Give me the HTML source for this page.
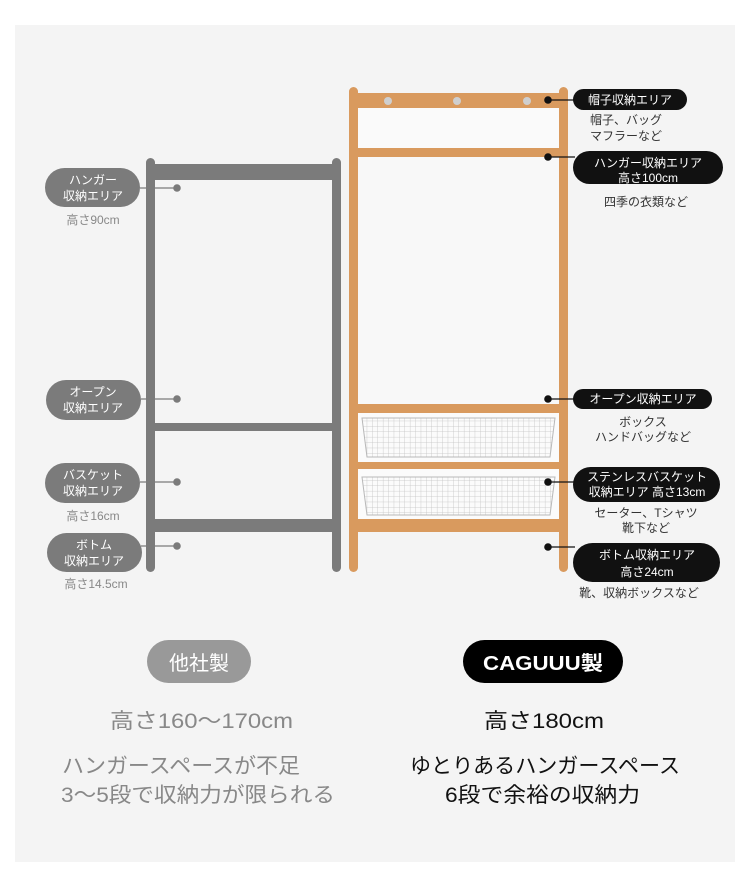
<!DOCTYPE html>
<html><head><meta charset="utf-8"><style>
html,body{margin:0;padding:0;background:#fff;}
svg{display:block;}
text{font-family:"Liberation Sans","Noto Sans CJK JP",sans-serif;}
</style></head><body>
<svg width="750" height="872" viewBox="0 0 750 872" xmlns="http://www.w3.org/2000/svg">
<defs>
<pattern id="grid" width="5.4" height="5.4" patternUnits="userSpaceOnUse">
<path d="M5.4 0V5.4M0 5.4H5.4" stroke="#c4c4c4" stroke-width="0.8" fill="none"/>
</pattern>
</defs>
<rect x="15" y="25" width="720" height="837" fill="#f4f4f4"/>

<!-- gray frame -->
<g fill="#7b7b7b">
<rect x="146" y="158" width="9" height="414" rx="4.5"/>
<rect x="332" y="158" width="9" height="414" rx="4.5"/>
<rect x="150" y="164" width="186" height="16"/>
<rect x="150" y="423" width="186" height="8"/>
<rect x="150" y="519" width="186" height="13"/>
</g>
<g stroke="#7b7b7b" stroke-width="1.2">
<line x1="140" y1="188" x2="177" y2="188"/>
<line x1="141" y1="399" x2="177" y2="399"/>
<line x1="140" y1="482" x2="177" y2="482"/>
<line x1="141" y1="546" x2="177" y2="546"/>
</g>
<g fill="#7b7b7b">
<circle cx="177" cy="188" r="3.8"/><circle cx="177" cy="399" r="3.8"/>
<circle cx="177" cy="482" r="3.8"/><circle cx="177" cy="546" r="3.8"/>
<rect x="45" y="168" width="95" height="39" rx="19.5"/>
<rect x="46" y="380" width="95" height="40" rx="20"/>
<rect x="45" y="463" width="95" height="40" rx="20"/>
<rect x="47" y="533" width="95" height="39" rx="19.5"/>
</g>
<g fill="#fff" font-size="12" text-anchor="middle">
<text x="93" y="184">ハンガー</text><text x="93" y="200">収納エリア</text>
<text x="93" y="396">オープン</text><text x="93" y="412">収納エリア</text>
<text x="93" y="479">バスケット</text><text x="93" y="495">収納エリア</text>
<text x="94" y="549">ボトム</text><text x="94" y="565">収納エリア</text>
</g>
<g fill="#888" font-size="12" text-anchor="middle">
<text x="93" y="224">高さ90cm</text>
<text x="93" y="520">高さ16cm</text>
<text x="96" y="588">高さ14.5cm</text>
</g>

<!-- orange frame -->
<rect x="358" y="108" width="201" height="40" fill="#fafafa"/>
<rect x="358" y="157" width="201" height="247" fill="#f8f8f8"/>
<rect x="358" y="413" width="201" height="49" fill="#fbfbfb"/>
<rect x="358" y="469" width="201" height="50" fill="#fbfbfb"/>
<g fill="#d99a5e">
<rect x="349" y="87" width="9" height="485" rx="4.5"/>
<rect x="559" y="87" width="9" height="485" rx="4.5"/>
<rect x="353" y="93" width="210" height="15"/>
<rect x="353" y="148" width="210" height="9"/>
<rect x="353" y="404" width="210" height="9"/>
<rect x="353" y="462" width="210" height="7"/>
<rect x="353" y="519" width="210" height="13"/>
</g>
<g fill="#cfcfcf">
<circle cx="388" cy="101" r="4"/><circle cx="457" cy="101" r="4"/><circle cx="527" cy="101" r="4"/>
</g>
<polygon points="362,418 555,418 550,457 367,457" fill="url(#grid)" stroke="#b8b8b8" stroke-width="1"/>
<polygon points="362,477 555,477 550,515 367,515" fill="url(#grid)" stroke="#b8b8b8" stroke-width="1"/>

<g stroke="#111" stroke-width="1.2">
<line x1="548" y1="100" x2="574" y2="100"/>
<line x1="548" y1="157" x2="575" y2="157"/>
<line x1="548" y1="399" x2="574" y2="399"/>
<line x1="548" y1="482" x2="575" y2="482"/>
<line x1="548" y1="547" x2="575" y2="547"/>
</g>
<g fill="#111">
<circle cx="548" cy="100" r="3.8"/><circle cx="548" cy="157" r="3.8"/>
<circle cx="548" cy="399" r="3.8"/><circle cx="548" cy="482" r="3.8"/>
<circle cx="548" cy="547" r="3.8"/>
<rect x="573" y="89" width="114" height="21" rx="10.5"/>
<rect x="573" y="151" width="150" height="33" rx="16.5"/>
<rect x="573" y="389" width="139" height="20" rx="10"/>
<rect x="573" y="467" width="147" height="35" rx="17.5"/>
<rect x="573" y="543" width="147" height="39" rx="19.5"/>
</g>
<g fill="#fff" font-size="12" text-anchor="middle">
<text x="630" y="104">帽子収納エリア</text>
<text x="648" y="167">ハンガー収納エリア</text><text x="648" y="182">高さ100cm</text>
<text x="643" y="403">オープン収納エリア</text>
<text x="647" y="481">ステンレスバスケット</text><text x="647" y="496">収納エリア 高さ13cm</text>
<text x="647" y="559">ボトム収納エリア</text><text x="647" y="576">高さ24cm</text>
</g>
<g fill="#333" font-size="12" text-anchor="middle">
<text x="626" y="124">帽子、バッグ</text><text x="626" y="140">マフラーなど</text>
<text x="646" y="206">四季の衣類など</text>
<text x="643" y="426">ボックス</text><text x="643" y="441">ハンドバッグなど</text>
<text x="646" y="517">セーター、Tシャツ</text><text x="646" y="532">靴下など</text>
<text x="639" y="597">靴、収納ボックスなど</text>
</g>

<!-- bottom -->
<rect x="147" y="640" width="104" height="43" rx="21.5" fill="#999"/>
<text x="199" y="670" fill="#fff" font-size="20" text-anchor="middle">他社製</text>
<rect x="463" y="640" width="160" height="43" rx="21.5" fill="#000"/>
<text x="483" y="670" fill="#fff" font-size="20" font-weight="bold" textLength="120" lengthAdjust="spacingAndGlyphs">CAGUUU製</text>

<g font-size="21">
<text x="110" y="728" fill="#888" textLength="183" lengthAdjust="spacingAndGlyphs">高さ160〜170cm</text>
<text x="484" y="728" fill="#111" textLength="120" lengthAdjust="spacingAndGlyphs">高さ180cm</text>
<text x="62" y="773" fill="#888" textLength="238" lengthAdjust="spacingAndGlyphs">ハンガースペースが不足</text>
<text x="61" y="802" fill="#888" textLength="274" lengthAdjust="spacingAndGlyphs">3〜5段で収納力が限られる</text>
<text x="410" y="773" fill="#111" textLength="270" lengthAdjust="spacingAndGlyphs">ゆとりあるハンガースペース</text>
<text x="445" y="802" fill="#111" textLength="195" lengthAdjust="spacingAndGlyphs">6段で余裕の収納力</text>
</g>
</svg>
</body></html>
